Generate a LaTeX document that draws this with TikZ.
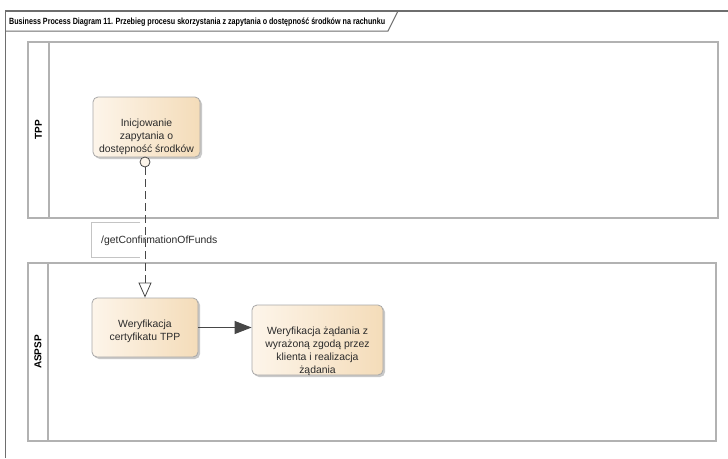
\documentclass[tikz,border=0pt]{standalone}
\usepackage{fontspec}
\setmainfont{Liberation Sans}
\usetikzlibrary{arrows.meta,shadows}
\definecolor{framec}{HTML}{6E6E6E}
\definecolor{poolc}{HTML}{B2B2B2}
\definecolor{taskborder}{HTML}{A8A8A8}
\definecolor{taskl}{HTML}{FDF5EA}
\definecolor{taskr}{HTML}{F4DCB9}
\definecolor{txtc}{HTML}{2A2A2A}
\definecolor{arrc}{HTML}{474747}
\definecolor{lblc}{HTML}{C4C4C4}
\tikzset{
  pool/.style={draw=poolc, line width=2pt},
  taskbox/.style={draw=taskborder, line width=0.8pt, rounded corners=5pt,
    left color=taskl, right color=taskr, inner sep=0pt,
    drop shadow={shadow xshift=2pt, shadow yshift=-2pt, fill=black!35, opacity=0.6},
    text=txtc, font=\fontsize{10.4}{13}\selectfont},
  lanelabel/.style={rotate=90, font=\bfseries\fontsize{10}{12}\selectfont, text=black},
  msgflow/.style={draw=arrc, line width=0.8pt, dash pattern=on 8pt off 4pt},
  seqflow/.style={draw=arrc, line width=1pt},
}
\newcommand{\tasktext}[3]{\parbox[c][#2][t]{#1}{\centering\vspace*{22pt}#3\par}}
\begin{document}
\begin{tikzpicture}[x=1pt,y=-1pt]
\useasboundingbox[fill=white] (0,0) rectangle (728,458);
% frame
\draw[framec, line width=1.3pt] (5.5,458) -- (5.5,11) -- (728,11);
\draw[framec, line width=1pt] (5.5,31) -- (388,31) -- (398,11);
\node[anchor=west, inner sep=0pt, text=black] (title) at (9,22)
  {\resizebox{376pt}{\height}{\bfseries\fontsize{9}{11}\selectfont Business Process Diagram 11. Przebieg procesu skorzystania z zapytania o dostępność środków na rachunku}};
% pools
\draw[pool] (28,42) rectangle (718,218);
\draw[pool] (49,42) -- (49,218);
\node[lanelabel] (tpp) at (38.5,130) {TPP};
\draw[pool] (28,263) rectangle (716,441);
\draw[pool] (48,263) -- (48,441);
\node[lanelabel] (aspsp) at (38,352) {ASPSP};
% message label box
\draw[lblc, line width=1pt] (140,222.5) -- (91.5,222.5) -- (91.5,257) -- (140,257);
\node[anchor=west, inner sep=0pt, text=txtc, font=\fontsize{10.4}{13}\selectfont] (lbl) at (101,240.5) {/getConfirmationOfFunds};
% tasks
\node[taskbox, minimum width=107pt, minimum height=60pt] (t1) at (146.5,127)
  {\tasktext{107pt}{60pt}{Inicjowanie\\zapytania o\\dostępność środków}};
\node[taskbox, minimum width=106pt, minimum height=59pt] (t2) at (145,327.5)
  {\tasktext{106pt}{59pt}{Weryfikacja\\certyfikatu TPP}};
\node[taskbox, minimum width=131pt, minimum height=70pt] (t3) at (317.5,340)
  {\tasktext{131pt}{70pt}{Weryfikacja żądania z\\wyrażoną zgodą przez\\klienta i realizacja\\żądania}};
% message flow
\node[circle, draw=arrc, fill=taskl, line width=0.8pt, minimum size=10pt, inner sep=0pt] (src) at (145,162) {};
\draw[msgflow, -{Triangle[open, length=15pt, width=13pt, fill=white]}] (src.south) -- (t2.north);
% sequence flow
\draw[seqflow, -{Triangle[length=17pt, width=13pt]}, fill=arrc] (t2.east) -- (t3.west |- t2.east);
\end{tikzpicture}
\end{document}
